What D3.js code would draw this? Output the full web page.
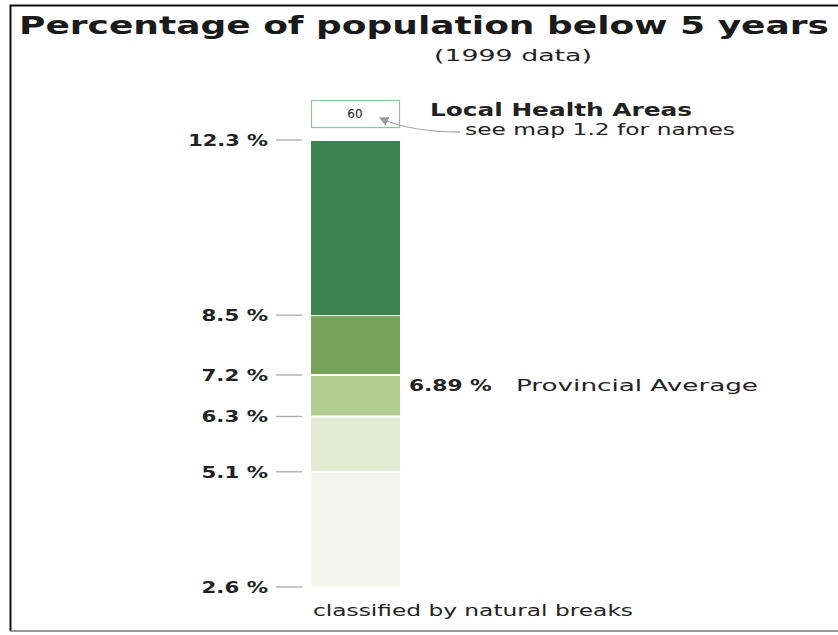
<!DOCTYPE html>
<html><head><meta charset="utf-8">
<script src="https://cdn.jsdelivr.net/npm/d3@7"></script>
<style>body{margin:0;background:#fff}svg{display:block}text{font-family:"DejaVu Sans",sans-serif}</style>
</head><body><svg id="c" width="838" height="635"></svg>
<script>
const breaks = [2.6, 5.1, 6.3, 7.2, 8.5, 12.3];
const breakLabels = ["2.6 %", "5.1 %", "6.3 %", "7.2 %", "8.5 %", "12.3 %"];
const classColors = ["#f4f6ee", "#e4ebd4", "#b2cd8f", "#78a35a", "#3c844f"];
const provincialAverage = 6.89;
const healthAreas = 60;

(function(){
const svg = d3.select("#c");
// frame
svg.append("path").attr("d","M838,5.5H10.5V631").attr("fill","none").attr("stroke","#111").attr("stroke-width",2);
svg.append("line").attr("x1",10).attr("x2",838).attr("y1",631).attr("y2",631).attr("stroke","#777").attr("stroke-width",1.5);

svg.append("text").attr("x",424).attr("y",34).attr("text-anchor","middle")
  .attr("font-size",25).attr("font-weight","bold").attr("fill","#1a1a1a")
  .attr("textLength",810).attr("lengthAdjust","spacingAndGlyphs")
  .text("Percentage of population below 5 years");
svg.append("text").attr("x",513).attr("y",61).attr("text-anchor","middle")
  .attr("font-size",16).attr("fill","#222").attr("textLength",158).attr("lengthAdjust","spacingAndGlyphs").text("(1999 data)");

const y = d3.scaleLinear().domain([2.6, 12.3]).range([587, 140]);
const x0 = 311, x1 = 400;

const topBreak = breaks[breaks.length - 1];
const classes = d3.range(classColors.length).map(i => ({lo: breaks[i], hi: breaks[i+1], c: classColors[i]}));
svg.selectAll("rect.cls").data(classes).join("rect").attr("class","cls")
  .attr("x", x0).attr("width", x1 - x0)
  .attr("y", d => y(d.hi) + 1)
  .attr("height", d => y(d.lo) - y(d.hi) - (d.hi === topBreak ? 1 : 2))
  .attr("fill", d => d.c);

const g = svg.append("g");
g.selectAll("line").data(breaks).join("line")
  .attr("x1",276).attr("x2",302).attr("y1",d=>y(d)).attr("y2",d=>y(d))
  .attr("stroke","#aaa").attr("stroke-width",1.3);
g.selectAll("text").data(breaks).join("text")
  .attr("x",268).attr("y",d=>y(d)+6).attr("text-anchor","end")
  .attr("font-size",16.5).attr("font-weight","bold").attr("fill","#222")
  .attr("textLength",(d,i)=>breakLabels[i].length * 13.3).attr("lengthAdjust","spacingAndGlyphs")
  .text((d,i)=>breakLabels[i]);

// average
const avgLabel = provincialAverage.toFixed(2)+" %";
svg.append("text").attr("x",409).attr("y",y(provincialAverage)+2).attr("font-size",16.5).attr("font-weight","bold").attr("fill","#222")
  .attr("textLength",avgLabel.length * 13.8).attr("lengthAdjust","spacingAndGlyphs").text(avgLabel);
svg.append("text").attr("x",516).attr("y",y(provincialAverage)+2).attr("font-size",16).attr("fill","#222").attr("textLength",242).attr("lengthAdjust","spacingAndGlyphs").text("Provincial Average");

// legend box
svg.append("rect").attr("x",311.5).attr("y",100.5).attr("width",88).attr("height",27).attr("fill","#fff").attr("stroke","#8fc49a").attr("stroke-width",1.2);
svg.append("text").attr("x",355).attr("y",118).attr("text-anchor","middle").attr("font-size",12).attr("fill","#222").text(healthAreas);
svg.append("defs").append("marker").attr("id","ah").attr("viewBox","0 0 10 10").attr("refX",9).attr("refY",5)
  .attr("markerWidth",7).attr("markerHeight",7).attr("orient","auto")
  .append("path").attr("d","M0,0L10,5L0,10z").attr("fill","#999");
svg.append("path").attr("d","M460,132 Q410,132 380,118").attr("fill","none").attr("stroke","#aaa").attr("stroke-width",1.3).attr("marker-end","url(#ah)");
svg.append("text").attr("x",430).attr("y",116).attr("font-size",17).attr("font-weight","bold").attr("fill","#222").attr("textLength",262).attr("lengthAdjust","spacingAndGlyphs").text("Local Health Areas");
svg.append("text").attr("x",465).attr("y",135).attr("font-size",15).attr("fill","#222").attr("textLength",270).attr("lengthAdjust","spacingAndGlyphs").text("see map 1.2 for names");

svg.append("text").attr("x",313).attr("y",616).attr("font-size",16).attr("fill","#222").attr("textLength",320).attr("lengthAdjust","spacingAndGlyphs").text("classified by natural breaks");
})();
</script></body></html>
